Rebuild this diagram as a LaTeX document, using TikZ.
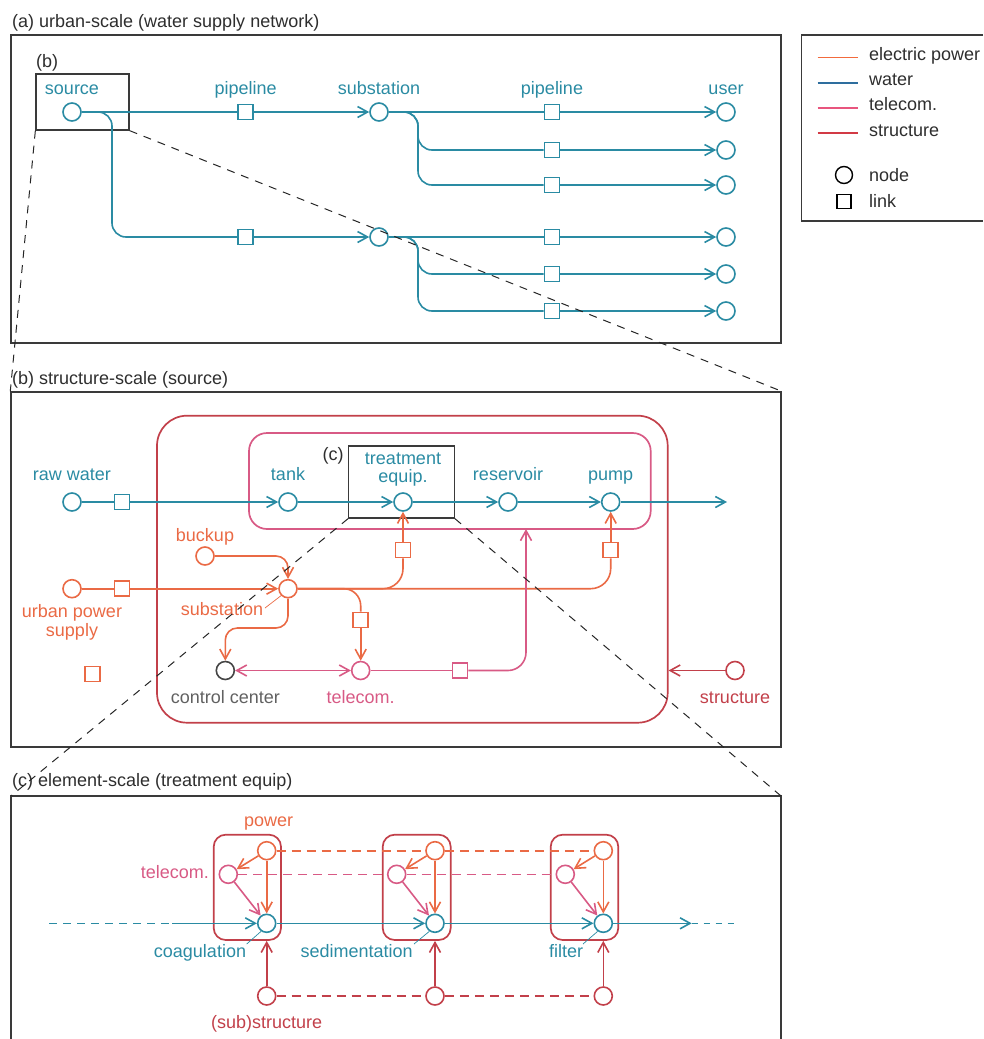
\documentclass[tikz,border=0pt]{standalone}
\usepackage{fontspec}
\setmainfont{Liberation Sans}
\usetikzlibrary{arrows.meta}
\definecolor{waterc}{HTML}{2A8BA3}
\definecolor{powerc}{HTML}{EA6A45}
\definecolor{telc}{HTML}{D85A85}
\definecolor{strc}{HTML}{C2404A}
\definecolor{framec}{HTML}{3A3A3A}
\definecolor{ctrlc}{HTML}{454545}
\definecolor{textc}{HTML}{2E2E2E}
\definecolor{lgpower}{HTML}{F26A3C}
\definecolor{lgwater}{HTML}{2E6E9E}
\definecolor{lgtel}{HTML}{E8557E}
\definecolor{lgstr}{HTML}{D23A45}
\begin{document}
\begin{tikzpicture}[x=1pt,y=-1pt,
  font=\fontsize{18}{21}\selectfont,
  tip/.tip={Straight Barb[length=10pt,width=11pt]},
  arr/.style={-tip},
  vtx/.style={circle, fill=white, minimum size=18pt, inner sep=0pt, line width=1.6pt},
  lnk/.style={rectangle, fill=white, minimum size=15pt, inner sep=0pt, line width=1.6pt},
  wv/.style={vtx, draw=waterc}, pv/.style={vtx, draw=powerc},
  tv/.style={vtx, draw=telc},   sv/.style={vtx, draw=strc},
  wl/.style={lnk, draw=waterc}, pl/.style={lnk, draw=powerc}, tl/.style={lnk, draw=telc},
  water/.style={draw=waterc, line width=1.6pt},
  power/.style={draw=powerc, line width=1.6pt},
  tel/.style={draw=telc, line width=1.6pt},
  str/.style={draw=strc, line width=1.6pt},
  leader/.style={line width=0.7pt},
  lbl/.style={inner sep=0pt, anchor=base},
  frame/.style={draw=framec, line width=1.4pt},
  zoombox/.style={draw=framec, line width=1.3pt, inner sep=0pt},
  zoomline/.style={draw=black!85, line width=1pt, dash pattern=on 8pt off 7pt},
  dashlink/.style={line width=1.6pt, dash pattern=on 9pt off 6pt},
  module/.style={draw=strc, line width=1.7pt, rounded corners=12pt, inner sep=0pt, minimum height=105.3pt},
]
\useasboundingbox (0,0) rectangle (983,1039);

% ---------------- panel frames and titles ----------------
\node[frame, minimum width=770pt, minimum height=308pt, inner sep=0pt] (pA) at (396,189) {};
\node[frame, minimum width=770pt, minimum height=355pt, inner sep=0pt] (pB) at (396,569.5) {};
\coordinate (pCnw) at (11,796);
\coordinate (pCne) at (781,796);
\draw[frame] (11,1039) -- (pCnw) -- (pCne) -- (781,1039);

\node[lbl, anchor=base west, text=textc] (tA) at (12,27) {(a) urban-scale (water supply network)};
\node[lbl, anchor=base west, text=textc] (tB) at (12,384) {(b) structure-scale (source)};
\node[lbl, anchor=base west, text=textc] (tC) at (12,786) {(c) element-scale (treatment equip)};

% ---------------- legend ----------------
\draw[frame] (983,35) -- (801.7,35) -- (801.7,221) -- (983,221);
\draw[draw=lgpower, line width=1.6pt] (817.7,57.5) -- (857.7,57.5);
\draw[draw=lgwater, line width=1.6pt] (817.7,83) -- (857.7,83);
\draw[draw=lgtel, line width=1.6pt] (817.7,108) -- (857.7,108);
\draw[draw=lgstr, line width=1.6pt] (817.7,133) -- (857.7,133);
\node[lbl, anchor=base west, text=textc] (lg1) at (869,60.7) {electric power};
\node[lbl, anchor=base west, text=textc] (lg2) at (869,85.7) {water};
\node[lbl, anchor=base west, text=textc] (lg3) at (869,110.7) {telecom.};
\node[lbl, anchor=base west, text=textc] (lg4) at (869,136.7) {structure};
\node[circle, draw=black, line width=1.4pt, minimum size=17pt, inner sep=0pt] (lgn) at (844,175) {};
\node[rectangle, draw=black, line width=1.4pt, minimum size=14pt, inner sep=0pt] (lgl) at (844,201.7) {};
\node[lbl, anchor=base west, text=textc] (lg5) at (869,181) {node};
\node[lbl, anchor=base west, text=textc] (lg6) at (869,207.3) {link};

% ---------------- (a) urban-scale network ----------------
\node[zoombox, minimum width=93pt, minimum height=56pt] (bz) at (82.5,102) {};
\node[lbl, anchor=base west, text=textc] (bzl) at (36,67) {(b)};

\node[wv] (src) at (72,112) {};
\node[wl] (pa1) at (245.7,112) {};
\node[wv] (sa) at (379,112) {};
\node[wl] (pa2) at (245.7,237) {};
\node[wv] (sb) at (379,237) {};
\foreach \i/\y in {1/112,2/150,3/185,4/237,5/274,6/311}{
  \node[wl] (q\i) at (552,\y) {};
  \node[wv] (u\i) at (726,\y) {};
  \draw[water,arr] (q\i) -- (u\i);
}
\draw[water] (src) -- (pa1);
\draw[water,arr] (pa1) -- (sa);
\draw[water, rounded corners=14pt] (src.east) -- (112,112) -- (112,237) -- (pa2.west);
\draw[water,arr] (pa2) -- (sb);
\draw[water] (sa) -- (q1);
\draw[water, rounded corners=14pt] (sa.east) -- (418,112) -- (418,150) -- (q2.west);
\draw[water, rounded corners=14pt] (sa.east) -- (418,112) -- (418,185) -- (q3.west);
\draw[water] (sb) -- (q4);
\draw[water, rounded corners=14pt] (sb.east) -- (418,237) -- (418,274) -- (q5.west);
\draw[water, rounded corners=14pt] (sb.east) -- (418,237) -- (418,311) -- (q6.west);

\node[lbl, text=waterc] at (72,94) {source};
\node[lbl, text=waterc] at (245.7,94) {pipeline};
\node[lbl, text=waterc] at (379,94) {substation};
\node[lbl, text=waterc] at (552,94) {pipeline};
\node[lbl, text=waterc] at (726,94) {user};

% ---------------- (b) structure-scale: source ----------------
\node[draw=strc, line width=1.7pt, rounded corners=30pt, minimum width=510.7pt, minimum height=307pt, inner sep=0pt] (outer) at (412.35,569.2) {};
\node[draw=telc, line width=1.7pt, rounded corners=18pt, minimum width=401.7pt, minimum height=96pt, inner sep=0pt] (inner) at (449.85,481) {};
\node[zoombox, minimum width=105.6pt, minimum height=72pt] (cbox) at (401.5,482) {};
\node[lbl, text=textc] (cboxl) at (333,460) {(c)};

% water chain
\node[wv] (rw) at (72,502) {};
\node[wl] (rwl) at (122,502) {};
\node[wv] (tank) at (288,502) {};
\node[wv] (treat) at (403,502) {};
\node[wv] (res) at (508,502) {};
\node[wv] (pump) at (610.7,502) {};
\coordinate (wout) at (727,502);
\draw[water] (rw) -- (rwl);
\draw[water,arr] (rwl) -- (tank);
\draw[water,arr] (tank) -- (treat);
\draw[water,arr] (treat) -- (res);
\draw[water,arr] (res) -- (pump);
\draw[water,arr] (pump) -- (wout);

% power
\node[pv] (bk) at (205,556) {};
\node[pv] (ups) at (72,588.7) {};
\node[pl] (upsl) at (122,588.7) {};
\node[pv] (subs) at (288,588.7) {};
\node[pl] (tql) at (403,550) {};
\node[pl] (pql) at (610.7,550) {};
\node[pl] (tel1) at (360.7,620) {};
\node[pl] (lone) at (92.7,674) {};
\draw[power] (ups) -- (upsl);
\draw[power,arr] (upsl) -- (subs);
\draw[power,arr, rounded corners=12pt] (bk.east) -- (288,556) -- (subs.north);
\draw[power, rounded corners=20pt] (subs.east) -- (403,588.7) -- (tql.south);
\draw[power,arr] (tql) -- (treat);
\draw[power, rounded corners=20pt] (subs.east) -- (610.7,588.7) -- (pql.south);
\draw[power,arr] (pql) -- (pump);
\draw[power, rounded corners=17pt] (subs.east) -- (360.7,588.7) -- (tel1.north);

% control and telecom
\node[vtx, draw=ctrlc] (cc) at (225.3,670.5) {};
\node[tv] (tele) at (360.7,670.5) {};
\node[tl] (tell) at (460,670.5) {};
\coordinate (tup) at (526,529);
\draw[power,arr] (tel1) -- (tele);
\draw[power,arr, rounded corners=12pt] (subs.south) -- (288,628) -- (225.3,628) -- (cc.north);
\draw[tel, tip-tip] (cc) -- (tele);
\draw[tel] (tele) -- (tell);
\draw[tel,arr, rounded corners=18pt] (tell.east) -- (526,670.5) -- (tup);

% structure
\node[sv] (stc) at (735,670.5) {};
\draw[str,arr] (stc) -- (stc -| outer.east);

\node[lbl, text=waterc] at (72,480) {raw water};
\node[lbl, text=waterc] at (288,480) {tank};
\node[lbl, text=waterc, align=center, font=\fontsize{18}{18}\selectfont] at (403,482) {treatment\\equip.};
\node[lbl, text=waterc] at (508,480) {reservoir};
\node[lbl, text=waterc] at (610.7,480) {pump};
\node[lbl, text=powerc] at (205,541) {buckup};
\node[lbl, text=powerc, align=center, font=\fontsize{18}{19}\selectfont] at (72,636) {urban power\\supply};
\node[lbl, text=powerc] (subsl) at (222,615) {substation};
\draw[powerc, leader] (265,608) -- (subs.225);
\node[lbl, text=ctrlc!85] at (225.3,703) {control center};
\node[lbl, text=telc] at (360.7,703) {telecom.};
\node[lbl, text=strc] at (735,703) {structure};

% ---------------- (c) element-scale: treatment equipment ----------------
\foreach \k/\mx/\mw/\px/\tx in {1/247.35/67.3/266.7/228.3, 2/416.7/68/435/396.7, 3/584.5/67.6/603.3/565.3}{
  \node[module, minimum width=\mw pt] (m\k) at (\mx,887.35) {};
  \node[pv] (pw\k) at (\px,850.7) {};
  \node[tv] (tc\k) at (\tx,874.3) {};
  \node[wv] (wt\k) at (\px,923.3) {};
  \node[sv] (sb\k) at (\px,996) {};
  \draw[power,arr] (pw\k) -- (tc\k);
  \draw[power,arr] (pw\k) -- (wt\k);
  \draw[tel,arr] (tc\k) -- (wt\k);
  \draw[str,arr] (sb\k) -- (sb\k |- m\k.south);
}
\draw[power, dashlink] (pw1) -- (pw2);
\draw[power, dashlink] (pw2) -- (pw3);
\draw[tel, dashlink] (tc1) -- (tc2);
\draw[tel, dashlink] (tc2) -- (tc3);
\draw[str, dashlink] (sb1) -- (sb2);
\draw[str, dashlink] (sb2) -- (sb3);

\coordinate (wl0) at (49,923.3);
\coordinate (wl1) at (172,923.3);
\coordinate (wr1) at (691.7,923.3);
\coordinate (wr2) at (736.7,923.3);
\draw[water, dash pattern=on 8pt off 6pt] (wl0) -- (wl1);
\draw[water,arr] (wl1) -- (wt1);
\draw[water,arr] (wt1) -- (wt2);
\draw[water,arr] (wt2) -- (wt3);
\draw[water,arr] (wt3) -- (wr1);
\draw[water, dash pattern=on 6pt off 6pt] (wr1) -- (wr2);

\node[lbl, text=powerc] at (268.7,826) {power};
\node[lbl, anchor=base east, text=telc] at (209,878) {telecom.};
\node[lbl, text=waterc] at (200,957) {coagulation};
\node[lbl, text=waterc] at (356.7,957) {sedimentation};
\node[lbl, text=waterc] at (566,957) {filter};
\node[lbl, text=strc] at (266.7,1028) {(sub)structure};
\draw[waterc, leader] (246.7,944) -- (wt1.235);
\draw[waterc, leader] (414,944) -- (wt2.235);
\draw[waterc, leader] (583,944) -- (wt3.235);

% ---------------- zoom guide lines ----------------
\draw[zoomline] (bz.south west) -- (pB.north west);
\draw[zoomline] (bz.south east) -- (pB.north east);
\draw[zoomline] (cbox.south west) -- (pCnw);
\draw[zoomline] (cbox.south east) -- (pCne);
\end{tikzpicture}
\end{document}
